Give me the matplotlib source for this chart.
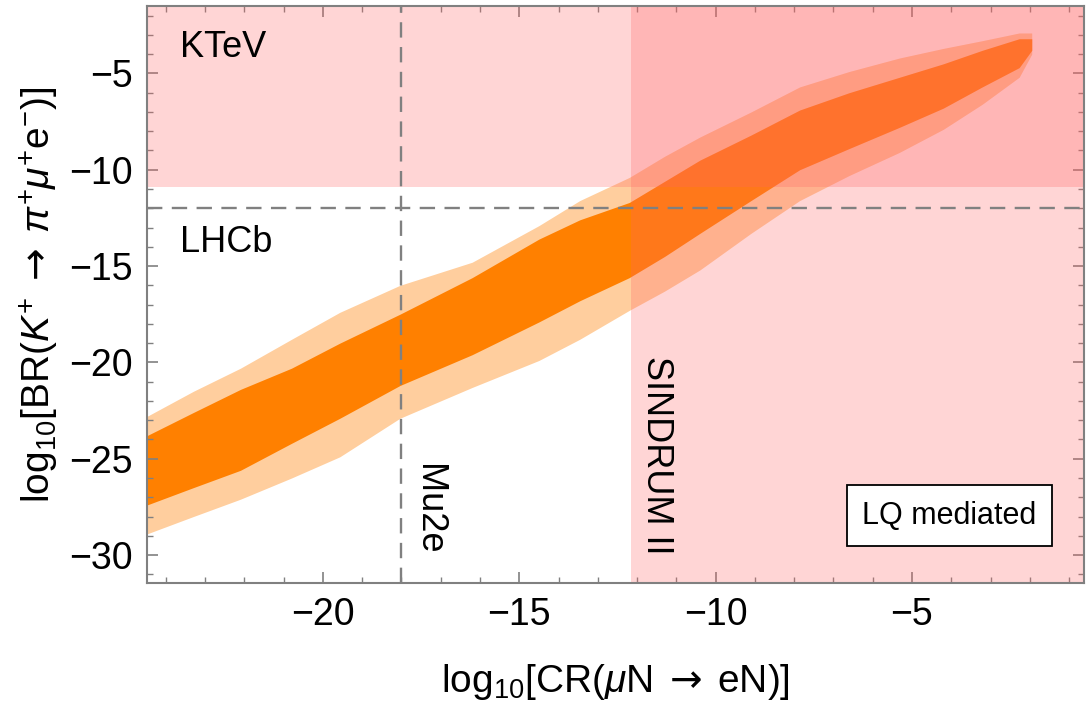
import matplotlib
matplotlib.use("Agg")
import matplotlib.pyplot as plt
from matplotlib.ticker import MultipleLocator

plt.rcParams['font.family'] = ['Liberation Sans', 'DejaVu Sans']
plt.rcParams['mathtext.fontset'] = 'custom'
plt.rcParams['mathtext.rm'] = 'Liberation Sans'
plt.rcParams['mathtext.it'] = 'Liberation Sans:italic'
plt.rcParams['mathtext.bf'] = 'Liberation Sans:bold'
plt.rcParams['mathtext.sf'] = 'DejaVu Sans'

# ---- data (envelope of the scatter cloud) ----
cloud_x = [-24.48, -23.3, -22.1, -20.8, -19.57, -18.04, -16.2, -14.5, -13.46, -12.2,
           -11.3, -10.4, -9.1, -7.86, -6.6, -5.32, -4.2, -3.21, -2.27, -1.95]
core_hi = [-23.8, -22.6, -21.4, -20.3, -19.0, -17.5, -15.6, -13.6, -12.6, -11.7,
           -10.6, -9.5, -8.2, -6.9, -6.0, -5.2, -4.5, -3.8, -3.2, -3.2]
core_lo = [-27.4, -26.5, -25.6, -24.2, -22.9, -21.2, -19.6, -17.9, -16.8, -15.6,
           -14.5, -13.3, -11.6, -10.0, -8.9, -7.8, -6.8, -5.7, -4.7, -3.8]
outer_hi = [-22.8, -21.5, -20.3, -18.8, -17.4, -16.0, -14.8, -12.9, -11.6, -10.4,
            -9.3, -8.3, -7.0, -5.7, -4.9, -4.2, -3.7, -3.3, -2.9, -2.9]
outer_lo = [-28.9, -28.0, -27.1, -26.0, -24.9, -22.9, -21.3, -19.9, -18.8, -17.3,
            -16.3, -15.2, -13.3, -11.6, -10.3, -9.1, -7.9, -6.6, -5.2, -4.0]

# experimental bounds
ktev_bound = -10.9      # log10 BR upper limit (shaded above)
lhcb_bound = -12.0      # dashed horizontal
sindrum_bound = -12.15  # log10 CR (shaded right)
mu2e_bound = -18.0      # dashed vertical

xlim = (-24.48, -0.62)
ylim = (-31.45, -1.5)

fig = plt.figure(figsize=(10.88, 7.11), dpi=100)
ax = fig.add_axes([0.1351, 0.18, 0.8612, 0.8116])

orange = '#FF8000'
ax.fill_between(cloud_x, outer_lo, outer_hi, color=orange, alpha=0.38, lw=0, zorder=1)
ax.fill_between(cloud_x, core_lo, core_hi, color=orange, lw=0, zorder=1.1)

pink = '#FF6464'
ax.axhspan(ktev_bound, ylim[1], color=pink, alpha=0.265, lw=0, zorder=2)
ax.axvspan(sindrum_bound, xlim[1], color=pink, alpha=0.265, lw=0, zorder=2)

dash_kw = dict(color='#808080', lw=1.7, dashes=(6.5, 4), zorder=3)
ax.axhline(lhcb_bound, **dash_kw)
ax.axvline(mu2e_bound, **dash_kw)

ax.set_xlim(*xlim)
ax.set_ylim(*ylim)

fs = 27
ax.text(-23.64, -3.65, 'KTeV', fontsize=fs - 1, va='center', ha='left', zorder=4)
ax.text(-23.64, -13.8, 'LHCb', fontsize=fs - 1, va='center', ha='left', zorder=4)
ax.text(-17.3, -27.6, 'Mu2e', fontsize=fs - 1, rotation=270, va='center', ha='center', zorder=4)
ax.text(-11.5, -24.8, 'SINDRUM II', fontsize=fs - 1, rotation=270, va='center', ha='center', zorder=4)
ax.text(-4.05, -27.95, 'LQ mediated', fontsize=22, va='center', ha='center', zorder=5,
        bbox=dict(boxstyle='square,pad=0.5', facecolor='white', edgecolor='black', lw=1.3))

ax.xaxis.set_major_locator(MultipleLocator(5))
ax.xaxis.set_minor_locator(MultipleLocator(1))
ax.yaxis.set_major_locator(MultipleLocator(5))
ax.yaxis.set_minor_locator(MultipleLocator(1))
ax.tick_params(which='both', direction='in', top=True, right=True, color='#808080')
ax.tick_params(which='major', length=8, width=1.2, labelsize=fs, pad=10)
ax.tick_params(which='minor', length=4.5, width=1.0)
for s in ax.spines.values():
    s.set_color('#808080')
    s.set_linewidth(1.5)
    s.set_zorder(6)

ax.set_xlabel(r'$\mathrm{log}_{10}[\mathrm{CR}(\mu\mathrm{N}\;\mathsf{\rightarrow}\;\mathrm{eN})]$',
              fontsize=28, labelpad=21)
ax.set_ylabel(r'$\mathrm{log}_{10}[\mathrm{BR}(K^{+}\;\mathsf{\rightarrow}\;\pi^{+}\mu^{+}\mathrm{e}^{-})]$',
              fontsize=28, labelpad=6)

fig.savefig('out.png', dpi=100)
